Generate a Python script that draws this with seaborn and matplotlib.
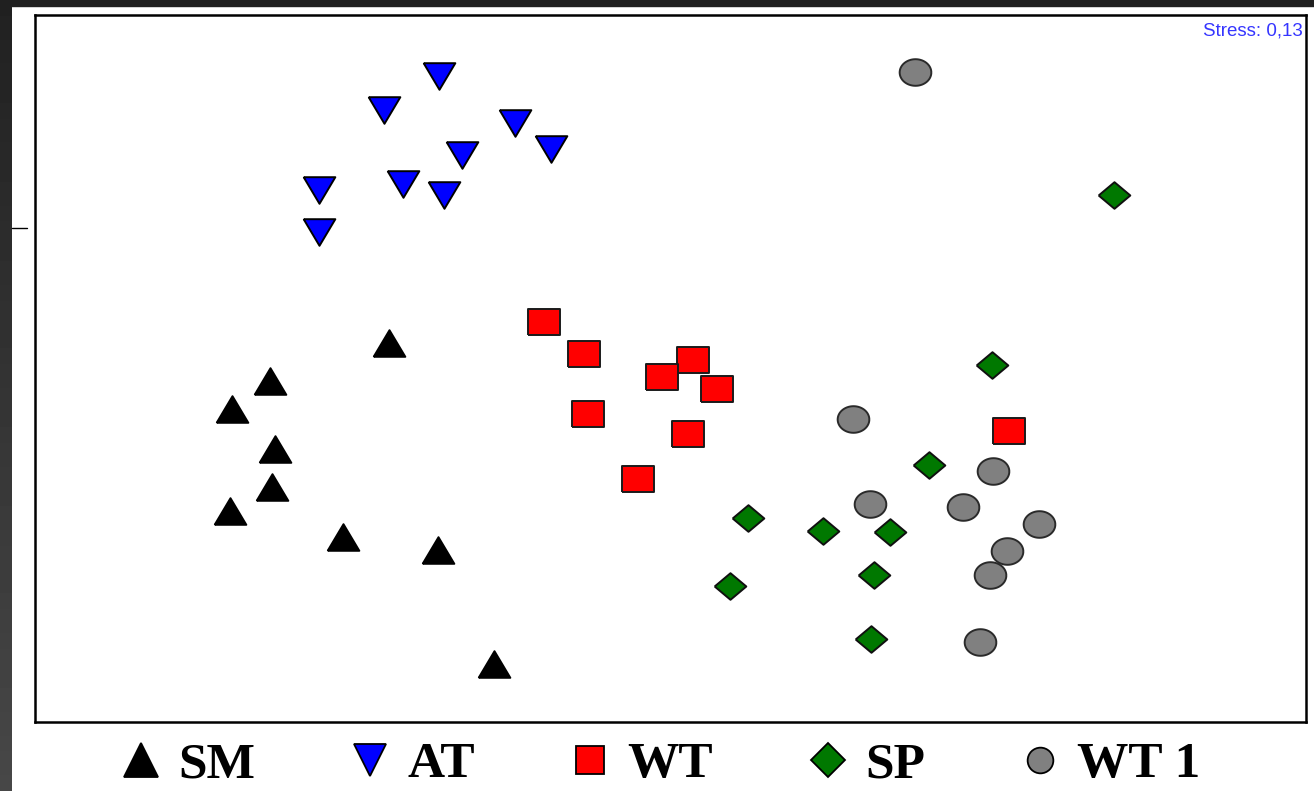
import numpy as np
import pandas as pd
import matplotlib
matplotlib.use("Agg")
import matplotlib.pyplot as plt
from matplotlib.lines import Line2D
import seaborn as sns

# ---- data (NMDS coordinates) ----
groups = ["SM", "AT", "WT", "SP", "WT 1"]

sm_x = [-0.562, -0.800, -0.876, -0.790, -0.796, -0.880, -0.654, -0.464, -0.352]
sm_y = [0.054, -0.022, -0.078, -0.158, -0.234, -0.282, -0.334, -0.360, -0.588]

at_x = [-0.462, -0.572, -0.310, -0.238, -0.416, -0.702, -0.534, -0.452, -0.702]
at_y = [0.588, 0.520, 0.494, 0.442, 0.430, 0.360, 0.372, 0.350, 0.276]

wt_x = [-0.252, -0.172, 0.046, -0.016, 0.094, -0.164, 0.036, -0.064, 0.678]
wt_y = [0.096, 0.032, 0.020, -0.014, -0.038, -0.088, -0.128, -0.218, -0.122]

sp_x = [0.888, 0.644, 0.518, 0.156, 0.306, 0.440, 0.408, 0.120, 0.402]
sp_y = [0.350, 0.010, -0.190, -0.296, -0.322, -0.324, -0.410, -0.432, -0.538]

wt1_x = [0.490, 0.366, 0.646, 0.400, 0.586, 0.738, 0.674, 0.640, 0.620]
wt1_y = [0.596, -0.098, -0.202, -0.268, -0.274, -0.308, -0.362, -0.410, -0.544]

stress_label = "Stress: 0,13"

xs = [sm_x, at_x, wt_x, sp_x, wt1_x]
ys = [sm_y, at_y, wt_y, sp_y, wt1_y]
df = pd.concat([pd.DataFrame({"x": x, "y": y, "group": g}) for g, x, y in zip(groups, xs, ys)],
               ignore_index=True)

# ---- styles ----
colors = {"SM": "#000000", "AT": "#0000ff", "WT": "#ff0000", "SP": "#007800", "WT 1": "#808080"}
edges = {"SM": "#000000", "AT": "#000000", "WT": "#1a1a1a", "SP": "#101010", "WT 1": "#2a2a2a"}
a = 0.84
t = np.linspace(0, 2 * np.pi, 61)
ellipse = list(zip(np.cos(t), a * np.sin(t)))
markers = {
    "SM": [(-1, -a), (1, -a), (0, a), (-1, -a)],
    "AT": [(-1, a), (1, a), (0, -a), (-1, a)],
    "WT": [(-1, -a), (1, -a), (1, a), (-1, a), (-1, -a)],
    "SP": [(-1, 0), (0, -a), (1, 0), (0, a), (-1, 0)],
    "WT 1": ellipse,
}
leg_markers = {"SM": "^", "AT": "v", "WT": "s", "SP": "D", "WT 1": "o"}
leg_sizes = {"SM": 24, "AT": 23, "WT": 19.5, "SP": 17, "WT 1": 18.5}

sns.set_theme(style="white")

W, H = 1314, 791
fig = plt.figure(figsize=(W / 100, H / 100), dpi=100, facecolor="white")

# dark window edges
bg = fig.add_axes([0, 0, 1, 1], zorder=-10)
bg.axis("off")
grad = np.linspace(0.13, 0.28, 100).reshape(-1, 1)
bg.imshow(grad, cmap="gray", vmin=0, vmax=1, extent=[0, 12, H, 0], aspect="auto")
bg.fill_between([0, W], 0, 6, color="#202020")
bg.plot([12, 27], [228, 228], color="black", lw=1)
bg.set_xlim(0, W)
bg.set_ylim(H, 0)

L, R, T, B = 35, 1306, 15, 722
ax = fig.add_axes([L / W, 1 - B / H, (R - L) / W, (B - T) / H])
ax.set_facecolor("white")

for g in groups:
    sub = df[df["group"] == g]
    sns.scatterplot(data=sub, x="x", y="y", ax=ax, color=colors[g],
                    marker=markers[g], s=520, edgecolor=edges[g], linewidth=1.4,
                    legend=False, zorder=3)

ax.set_xlim(-1.27, 1.272)
ax.set_ylim(-0.704, 0.71)
ax.set_xticks([])
ax.set_yticks([])
ax.set_xlabel("")
ax.set_ylabel("")
for sp in ax.spines.values():
    sp.set_visible(True)
    sp.set_color("black")
    sp.set_linewidth(1.8)

ax.text(0.9975, 0.977, stress_label, transform=ax.transAxes, ha="right", va="center",
        color="#3535ff", fontsize=13.5, family="Liberation Sans")

handles = [Line2D([], [], linestyle="none", marker=leg_markers[g], markersize=leg_sizes[g],
                  markerfacecolor=colors[g], markeredgecolor="black", markeredgewidth=1.3)
           for g in groups]
fig.legend(handles, groups, loc="center", bbox_to_anchor=(662 / W, 1 - 765 / H), ncol=5,
           frameon=False, handlelength=0.68, handletextpad=0.38, columnspacing=1.9,
           borderpad=0, labelcolor="black",
           prop={"family": "Liberation Serif", "weight": "bold", "size": 37})

fig.savefig("out.png", dpi=100, facecolor="white")
